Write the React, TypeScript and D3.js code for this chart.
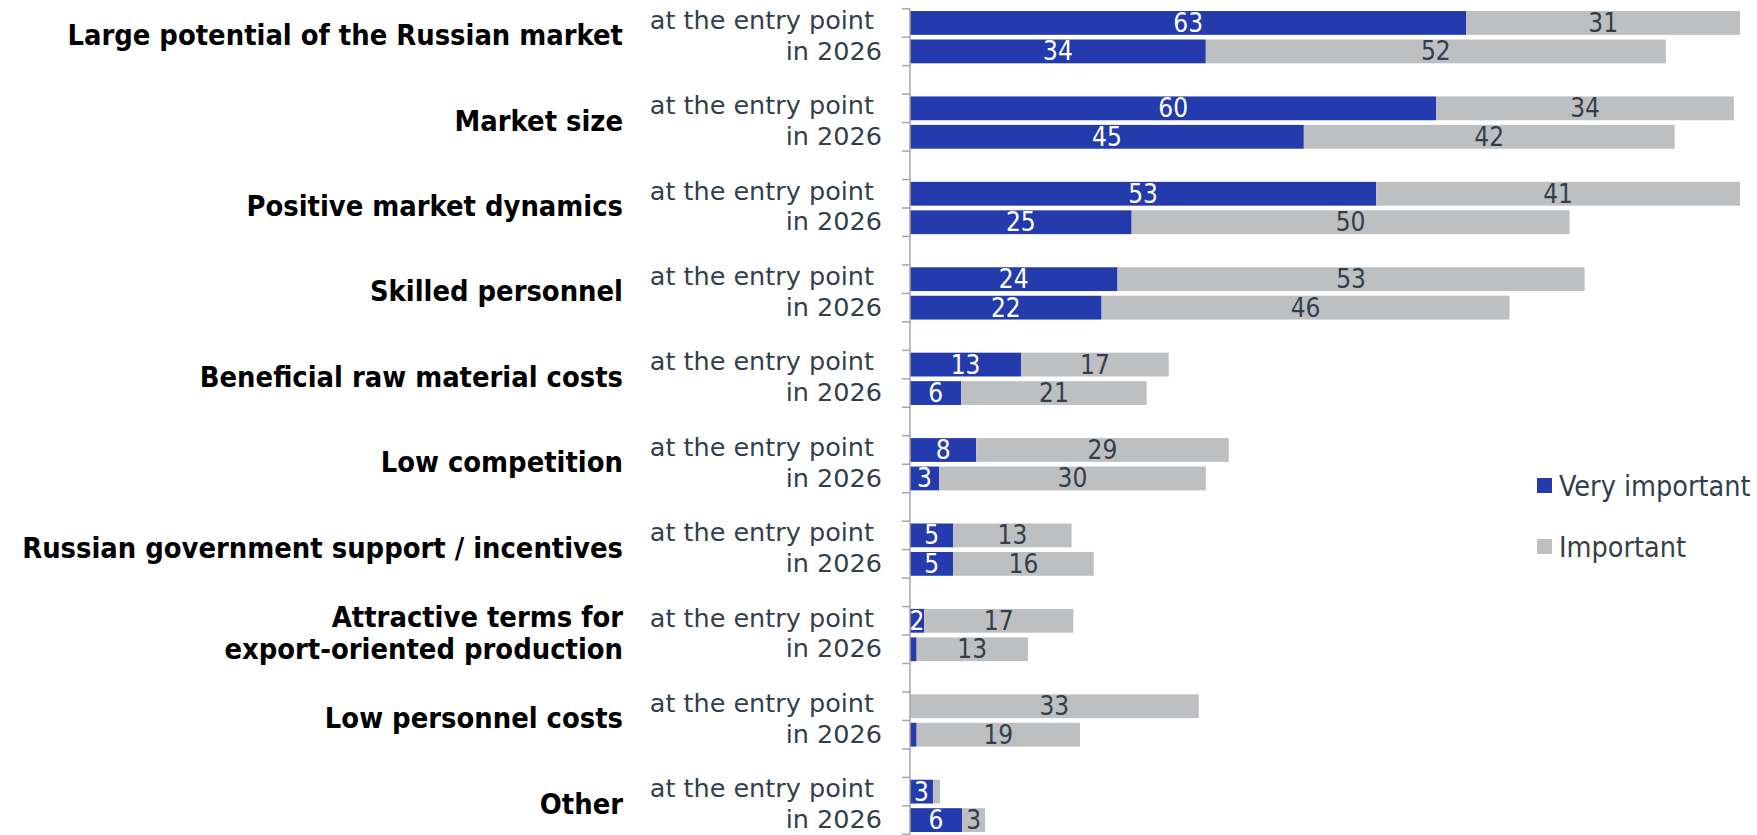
import React from "react";
import * as d3 from "d3";

const categories: string[][] = [
  ["Large potential of the Russian market"],
  ["Market size"],
  ["Positive market dynamics"],
  ["Skilled personnel"],
  ["Beneficial raw material costs"],
  ["Low competition"],
  ["Russian government support / incentives"],
  ["Attractive terms for", "export-oriented production"],
  ["Low personnel costs"],
  ["Other"],
];
const periods = ["at the entry point", "in 2026"];
const veryImportantEntry = [63, 59.6, 52.8, 23.5, 12.6, 7.5, 4.9, 1.6, 0, 2.6];
const importantEntry = [31, 33.7, 41.2, 52.9, 16.7, 28.6, 13.4, 16.9, 32.7, 0.8];
const veryImportant2026 = [33.5, 44.6, 25.1, 21.7, 5.8, 3.3, 4.9, 0.75, 0.75, 5.9];
const important2026 = [52.1, 42, 49.6, 46.2, 21, 30.2, 15.9, 12.6, 18.5, 2.6];
const seriesNames = ["Very important", "Important"];

const W = 1757;
const H = 835;
const BLUE = "#233BAD";
const GREY = "#BEBFC1";
const TEXT = "#333F4C";
const FONT = "'DejaVu Sans Condensed', 'DejaVu Sans', sans-serif";
const FONT_WIDE = "'DejaVu Sans', sans-serif";

export default function App() {
  const axisX = 910;
  const slotCount = categories.length * 3 - 1;
  const top = 8.7;
  const slot = 28.47;
  const y = d3
    .scaleBand<number>()
    .domain(d3.range(slotCount))
    .range([top, top + slot * slotCount])
    .padding(0);
  const x = d3.scaleLinear().domain([0, 100]).range([axisX, axisX + 883]);
  const barH = 23.8;
  const barOff = (y.bandwidth() - barH) / 2;

  const rows = categories.flatMap((c, i) => [
    { cat: i, period: 0, slot: i * 3, vals: [veryImportantEntry[i], importantEntry[i]] },
    { cat: i, period: 1, slot: i * 3 + 1, vals: [veryImportant2026[i], important2026[i]] },
  ]);

  const ticks = d3.range(slotCount + 1).map((k) => top + k * y.step());

  return (
    <svg width={W} height={H} style={{ position: "absolute", left: 0, top: 0, background: "#fff" }}>
      {rows.map((r, ri) => {
        let acc = 0;
        const by = (y(r.slot) as number) + barOff;
        return (
          <g key={ri}>
            {r.vals.map((v, si) => {
              const x0 = x(acc);
              acc += v;
              const x1 = x(acc);
              if (v <= 0) return null;
              return (
                <g key={si}>
                  <rect x={x0} y={by} width={x1 - x0} height={barH} fill={si === 0 ? BLUE : GREY} />
                  {v >= 1.5 && (
                    <text
                      x={(x0 + x1) / 2}
                      y={by + barH / 2 + 1.5}
                      textAnchor="middle"
                      dominantBaseline="middle"
                      fontFamily={FONT}
                      fontSize={26}
                      fill={si === 0 ? "#fff" : TEXT}
                    >
                      {Math.round(v)}
                    </text>
                  )}
                </g>
              );
            })}
          </g>
        );
      })}
      {categories.map((c, i) =>
        periods.map((p, pi) => (
          <text
            key={`${i}-${pi}`}
            x={pi === 0 ? axisX - 36 : axisX - 28}
            y={(y(i * 3 + pi) as number) + y.bandwidth() / 2 + (pi === 0 ? -1.2 : 1.2)}
            textAnchor="end"
            dominantBaseline="middle"
            fontFamily={FONT_WIDE}
            fontSize={25.5}
            fill={TEXT}
          >
            {p}
          </text>
        ))
      )}
      {categories.map((lines, i) => {
        const cy = y(i * 3 + 1) as number;
        return (
          <text
            key={i}
            x={623}
            textAnchor="end"
            fontFamily={FONT}
            fontWeight="bold"
            fontSize={28.8}
            fill="#000"
          >
            {lines.map((l, li) => (
              <tspan key={li} x={623} y={cy + (li - (lines.length - 1) / 2) * 32} dominantBaseline="middle">
                {l}
              </tspan>
            ))}
          </text>
        );
      })}
      <line x1={axisX} x2={axisX} y1={ticks[0]} y2={ticks[ticks.length - 1]} stroke="#A6A6A6" strokeWidth={1.5} />
      {ticks.map((t, k) => (
        <line key={k} x1={axisX - 8} x2={axisX} y1={t} y2={t} stroke="#A6A6A6" strokeWidth={1.5} />
      ))}
      {seriesNames.map((n, i) => (
        <g key={n} transform={`translate(1537, ${478 + i * 61})`}>
          <rect width={15} height={15} fill={i === 0 ? BLUE : GREY} />
          <text x={22} y={10} dominantBaseline="middle" fontFamily={FONT} fontSize={28.5} fill={TEXT}>
            {n}
          </text>
        </g>
      ))}
    </svg>
  );
}
